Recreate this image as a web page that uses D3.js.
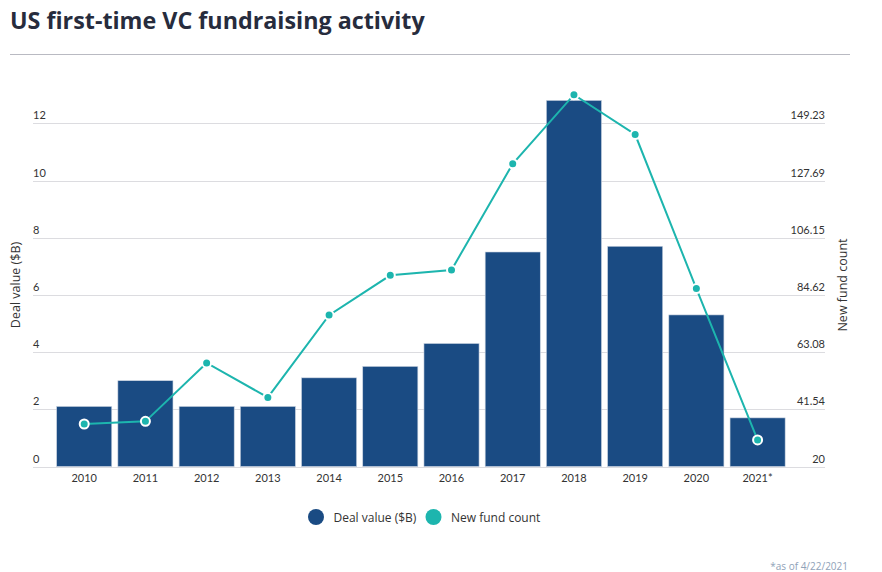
<!DOCTYPE html>
<html>
<head>
<meta charset="utf-8">
<script src="https://cdn.jsdelivr.net/npm/d3@7"></script>
<style>
  body { margin: 0; background: #fff; }
  text { font-family: "Open Sans", sans-serif; }
  .tick-label { font-family: Lato, "Open Sans", sans-serif; font-size: 11px; fill: #333; }
</style>
</head>
<body>
<div id="chart"></div>
<script>
const years = ['2010', '2011', '2012', '2013', '2014', '2015', '2016', '2017', '2018', '2019', '2020', '2021*'];
const dealValue = [2.1, 3.0, 2.1, 2.1, 3.1, 3.5, 4.3, 7.5, 12.8, 7.7, 5.3, 1.7];
const fundCount = [36, 37, 59, 46, 77, 92, 94, 134, 160, 145, 87, 30];
const leftTicks = [0, 2, 4, 6, 8, 10, 12];
const rightTicks = [20, 41.54, 63.08, 84.62, 106.15, 127.69, 149.23];

const WIDTH = 882;
const HEIGHT = 572;
const BAR_COLOR = '#1a4b83';
const LINE_COLOR = '#1db5ae';

const svg = d3.select('#chart')
    .append('svg')
        .attr('width', WIDTH)
        .attr('height', HEIGHT);

// title + rule
svg.append('text')
    .attr('x', 10)
    .attr('y', 29)
    .style('font-size', '23.3px')
    .style('font-weight', 700)
    .style('fill', '#272c3d')
    .text('US first-time VC fundraising activity');

svg.append('line')
    .attr('x1', 10).attr('x2', 850)
    .attr('y1', 54.5).attr('y2', 54.5)
    .attr('stroke', '#b9bac2')
    .attr('stroke-width', 1);

const x = d3.scaleBand()
    .domain(years)
    .range([53.6, 788.2])
    .paddingInner(0.1)
    .paddingOuter(0.05);

const yLeft = d3.scaleLinear().domain([0, 13]).range([466.5, 94.7]);
const yRight = d3.scaleLinear().domain([20, 160]).range([466.5, 94.7]);

const gridLeft = 33, gridRight = 825;

// gridlines
svg.append('g')
    .selectAll('line')
    .data(leftTicks)
    .enter()
    .append('line')
        .attr('x1', gridLeft).attr('x2', gridRight)
        .attr('y1', d => Math.round(yLeft(d)) + 0.5)
        .attr('y2', d => Math.round(yLeft(d)) + 0.5)
        .attr('stroke', '#dcdce0')
        .attr('stroke-width', 1);

// left tick labels (sit on top of grid line)
svg.append('g')
    .selectAll('text')
    .data(leftTicks)
    .enter()
    .append('text')
        .attr('class', 'tick-label')
        .attr('x', gridLeft)
        .attr('y', d => yLeft(d) - 4)
        .text(d => d);

// right tick labels
svg.append('g')
    .selectAll('text')
    .data(rightTicks)
    .enter()
    .append('text')
        .attr('class', 'tick-label')
        .attr('x', gridRight)
        .attr('y', d => yRight(d) - 4)
        .attr('text-anchor', 'end')
        .text(d => d);

// axis titles
svg.append('text')
    .attr('transform', `translate(20, 285) rotate(-90)`)
    .attr('text-anchor', 'middle')
    .style('font-size', '12.5px')
    .style('fill', '#333')
    .text('Deal value ($B)');

svg.append('text')
    .attr('transform', `translate(847, 285) rotate(-90)`)
    .attr('text-anchor', 'middle')
    .style('font-size', '12.5px')
    .style('fill', '#333')
    .text('New fund count');

// bars
svg.append('g')
    .selectAll('rect')
    .data(dealValue)
    .enter()
    .append('rect')
        .attr('x', (d, i) => x(years[i]))
        .attr('y', d => yLeft(d))
        .attr('width', x.bandwidth())
        .attr('height', d => yLeft(0) - yLeft(d))
        .attr('fill', BAR_COLOR)
        .attr('stroke', '#c9d3e0')
        .attr('stroke-width', 0.6);

// x labels
svg.append('g')
    .selectAll('text')
    .data(years)
    .enter()
    .append('text')
        .attr('class', 'tick-label')
        .attr('x', d => x(d) + x.bandwidth() / 2)
        .attr('y', 482)
        .attr('text-anchor', 'middle')
        .text(d => d);

// line
const line = d3.line()
    .x((d, i) => x(years[i]) + x.bandwidth() / 2)
    .y(d => yRight(d));

svg.append('path')
    .datum(fundCount)
    .attr('d', line)
    .attr('fill', 'none')
    .attr('stroke', LINE_COLOR)
    .attr('stroke-width', 2);

svg.append('g')
    .selectAll('circle')
    .data(fundCount)
    .enter()
    .append('circle')
        .attr('cx', (d, i) => x(years[i]) + x.bandwidth() / 2)
        .attr('cy', d => yRight(d))
        .attr('r', 4.5)
        .attr('fill', LINE_COLOR)
        .attr('stroke', '#fff')
        .attr('stroke-width', 2);

// legend
const legend = svg.append('g').attr('transform', 'translate(0, 517)');
const legendItems = [
    { label: 'Deal value ($B)', color: BAR_COLOR, x: 316 },
    { label: 'New fund count', color: LINE_COLOR, x: 433.5 }
];
legendItems.forEach(item => {
    legend.append('circle')
        .attr('cx', item.x)
        .attr('cy', 0)
        .attr('r', 8)
        .attr('fill', item.color);
    legend.append('text')
        .attr('x', item.x + 17.5)
        .attr('y', 4.5)
        .style('font-size', '12px')
        .style('fill', '#333')
        .text(item.label);
});

// footnote
svg.append('text')
    .attr('x', 848)
    .attr('y', 570)
    .attr('text-anchor', 'end')
    .style('font-size', '10px')
    .style('fill', '#8fa2b8')
    .text('*as of 4/22/2021');
</script>
</body>
</html>
